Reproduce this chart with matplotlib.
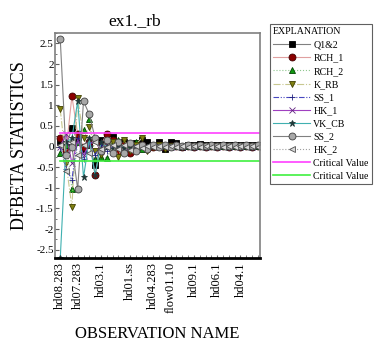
import numpy as np
import matplotlib.pyplot as plt
from matplotlib.ticker import MultipleLocator

plt.rcParams.update({
    'font.family': 'Liberation Serif',
    'font.size': 7,
})

# ── data ─────────────────────────────────────────────────────────────────────
n_obs = 35
obs = np.arange(1, n_obs + 1)

tick_pos = [1, 4, 8, 13, 17, 20, 24, 28, 32]
tick_labels = ['hd08.283', 'hd07.283', 'hd03.1', 'hd01.ss', 'hd04.283',
               'flow01.10', 'hd09.1', 'hd06.1', 'hd04.1']

q12 = [0.10, 0.00, 0.45, 0.20, -0.05, 0.05, -0.45, 0.15, 0.25, 0.22,
       0.05, 0.10, -0.05, 0.08, 0.15, 0.12, 0.02, 0.10, -0.05, 0.12,
       0.08, 0.00, 0.05, 0.03, 0.06, 0.04, 0.05, 0.04, 0.05, 0.04,
       0.05, 0.04, 0.05, 0.04, 0.05]
rch_1 = [0.20, -0.10, 1.22, 0.30, 0.00, 0.10, -0.68, 0.05, 0.30, 0.15,
         -0.10, 0.05, -0.15, 0.00, 0.05, -0.05, -0.02, 0.03, 0.00, 0.02,
         0.01, 0.00, 0.01, 0.00, 0.01, 0.00, 0.01, 0.00, 0.01, 0.00,
         0.01, 0.00, 0.01, 0.00, 0.01]
rch_2 = [-0.15, 0.05, -1.03, 0.10, 0.40, 0.68, -0.30, -0.25, -0.28, 0.10,
         0.15, -0.10, 0.05, 0.10, -0.05, 0.00, 0.05, 0.02, 0.01, 0.02,
         0.01, 0.02, 0.01, 0.02, 0.01, 0.02, 0.01, 0.02, 0.01, 0.02,
         0.01, 0.02, 0.01, 0.02, 0.01]
k_rb = [0.90, -0.40, -1.47, 1.18, 0.20, 0.47, -0.10, -0.20, 0.05, 0.10,
        -0.25, 0.15, -0.10, 0.05, 0.20, -0.10, 0.00, 0.05, -0.05, 0.02,
        0.01, 0.00, 0.02, 0.01, 0.02, 0.01, 0.02, 0.01, 0.02, 0.01,
        0.02, 0.01, 0.02, 0.01, 0.02]
ss_1 = [0.00, -0.55, -0.80, 0.20, -0.30, 0.10, -0.20, 0.05, -0.10, 0.00,
        0.05, -0.05, 0.03, -0.02, 0.02, 0.00, 0.01, 0.00, 0.01, 0.00,
        0.01, 0.00, 0.01, 0.00, 0.01, 0.00, 0.01, 0.00, 0.01, 0.00,
        0.01, 0.00, 0.01, 0.00, 0.01]
hk_1 = [0.00, 0.30, -0.40, 0.15, -0.20, 0.05, 0.15, -0.10, 0.05, -0.05,
        0.03, -0.03, 0.02, 0.00, 0.01, 0.00, 0.01, 0.00, 0.01, 0.00,
        0.01, 0.00, 0.01, 0.00, 0.01, 0.00, 0.01, 0.00, 0.01, 0.00,
        0.01, 0.00, 0.01, 0.00, 0.01]
vk_cb = [-2.70, 0.10, 0.20, 1.10, -0.75, 0.20, -0.70, 0.10, 0.00, -0.05,
         0.05, -0.03, 0.02, 0.00, 0.01, 0.00, 0.01, 0.00, 0.01, 0.00,
         0.01, 0.00, 0.01, 0.00, 0.01, 0.00, 0.01, 0.00, 0.01, 0.00,
         0.01, 0.00, 0.01, 0.00, 0.01]
ss_2 = [2.60, -0.20, 0.00, -1.03, 1.10, 0.78, 0.20, -0.10, 0.15, -0.15,
        0.10, -0.15, 0.08, -0.10, 0.05, -0.05, 0.03, -0.02, 0.04, 0.00,
        0.03, 0.01, 0.03, 0.02, 0.03, 0.02, 0.03, 0.02, 0.03, 0.02,
        0.03, 0.02, 0.03, 0.02, 0.03]
hk_2 = [0.05, -0.60, 0.10, -0.20, 0.05, -0.15, 0.10, -0.05, 0.00, 0.05,
        -0.05, 0.03, -0.08, 0.02, -0.03, 0.01, 0.00, 0.01, 0.00, 0.01,
        0.00, 0.01, 0.00, 0.01, 0.00, 0.01, 0.00, 0.01, 0.00, 0.01,
        0.00, 0.01, 0.00, 0.01, 0.00]
crit = 2 / np.sqrt(n_obs)

series = [
    ('Q1&2',  q12,   dict(color='#808080', ls='-',  marker='s', mfc='black',   mec='black')),
    ('RCH_1', rch_1, dict(color='#e0a0a0', ls='-',  marker='o', mfc='#8b0000', mec='#400000')),
    ('RCH_2', rch_2, dict(color='#90c890', ls=':',  marker='^', mfc='#119911', mec='#004400')),
    ('K_RB',  k_rb,  dict(color='#c8c890', ls='-.', marker='v', mfc='#808010', mec='#404000')),
    ('SS_1',  ss_1,  dict(color='#4848c0', ls=(0, (5, 1.5, 1, 1.5, 1, 1.5)), marker='+', mfc='#202080', mec='#202080')),
    ('HK_1',  hk_1,  dict(color='#a040c0', ls='-',  marker='x', mfc='#602080', mec='#602080')),
    ('VK_CB', vk_cb, dict(color='#40b0b0', ls='-',  marker='*', mfc='#203838', mec='#203838')),
    ('SS_2',  ss_2,  dict(color='#808080', ls='-',  marker='o', mfc='#a8a8a8', mec='#404040')),
    ('HK_2',  hk_2,  dict(color='#a0a0a0', ls=':',  marker='<', mfc='#d8d8d8', mec='#505050')),
]

# ── figure ────────────────────────────────────────────────────────────────────
fig = plt.figure(figsize=(3.77, 3.49), dpi=100)
ax = fig.add_axes([0.146, 0.261, 0.544, 0.644])

for name, vals, st in series:
    ax.plot(obs, vals, lw=0.8, markersize=5, markeredgewidth=0.6, label=name, **st)

ax.plot([obs[0], n_obs + 1], [crit, crit], color='#ff40ff', lw=1.2, label='Critical Value')
ax.plot([obs[0], n_obs + 1], [-crit, -crit], color='#40f040', lw=1.2, label='Critical Value')

ax.set_xlim(0.1, 35.4)
ax.set_ylim(-2.7, 2.75)
ax.set_xticks(tick_pos)
ax.set_xticklabels(tick_labels, rotation=90, fontsize=9)
ax.xaxis.set_minor_locator(MultipleLocator(1))
ax.yaxis.set_minor_locator(MultipleLocator(0.25))
ax.set_yticks(np.arange(-2.5, 2.6, 0.5))
ax.set_yticklabels(['-2.5', '-2', '-1.5', '-1', '-0.5', '0', '0.5', '1', '1.5', '2', '2.5'], fontsize=8)
ax.tick_params(axis='x', which='both', direction='in', length=2, color='#606060', pad=3)
ax.tick_params(axis='y', which='major', direction='in', length=3, color='#606060', pad=1)
ax.tick_params(axis='y', which='minor', direction='in', length=1.5, color='#606060')

for s in ['left', 'top', 'right']:
    ax.spines[s].set_color('#808080')
    ax.spines[s].set_linewidth(1.2)
ax.spines['bottom'].set_color('black')
ax.spines['bottom'].set_linewidth(2)

fig.text(0.356, 0.928, 'ex1._rb', fontsize=12.5, ha='center', va='baseline')
ax.set_ylabel('DFBETA STATISTICS', fontsize=13, labelpad=6)
ax.set_xlabel('OBSERVATION NAME', fontsize=12, labelpad=9)

leg = fig.legend(loc='upper left', bbox_to_anchor=(0.716, 0.93), fontsize=7.1,
                 title='EXPLANATION', title_fontsize=7.1, alignment='left',
                 handlelength=3.8, labelspacing=0.42, borderpad=0.3,
                 handletextpad=0.3, borderaxespad=0, fancybox=False,
                 edgecolor='#606060', framealpha=1)
leg.get_frame().set_linewidth(0.8)

fig.savefig('out.png', dpi=100)
